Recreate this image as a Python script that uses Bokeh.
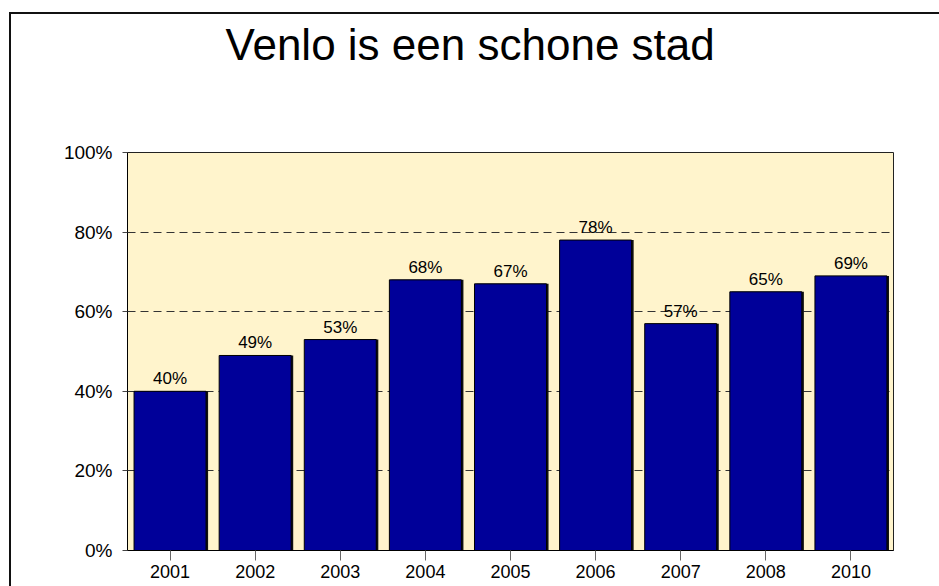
from bokeh.plotting import figure
from bokeh.models import (ColumnDataSource, LabelSet, Range1d, FixedTicker,
                          PrintfTickFormatter, Title)
from bokeh.transform import dodge
from bokeh.embed import file_html
from bokeh.resources import INLINE
from bokeh.core.properties import value

# ---- data ----
years = ["2001", "2002", "2003", "2004", "2005", "2006", "2007", "2008", "2010"]
scores = [40, 49, 53, 68, 67, 78, 57, 65, 69]
y_ticks = [0, 20, 40, 60, 80, 100]
title_text = "Venlo is een schone stad"

src = ColumnDataSource(dict(
    x=years,
    top=scores,
    label=[f"{v}%" for v in scores],
))

FONT = "Liberation Sans"

p = figure(x_range=years, y_range=Range1d(0, 100),
           width=939, height=586,
           output_backend="svg", toolbar_location=None,
           min_border_left=127, min_border_right=46,
           min_border_top=152, min_border_bottom=36)

p.background_fill_color = "#FFF4CC"
p.border_fill_color = None
p.outline_line_color = "#222222"
p.outline_line_width = 1
# outer chart border (left and top edges visible in the reference)
p.styles = {
    "background": ("linear-gradient(#111,#111) 9px 12px / 2px 700px no-repeat, "
                   "linear-gradient(#111,#111) 9px 12px / 1000px 2px no-repeat, "
                   "white"),
}

# title: empty default title, spacer next to the frame, real title above it
p.title.text = ""
spacer = Title(text=" ", text_font_size="1px", standoff=79)
p.add_layout(spacer, "above")
main_title = Title(text=title_text, text_font=FONT, text_font_size="44px",
                   text_font_style="normal", text_color="black",
                   align="left", offset=98, vertical_align="top", standoff=0)
p.add_layout(main_title, "above")

# y axis
p.yaxis.ticker = FixedTicker(ticks=y_ticks)
p.yaxis.formatter = PrintfTickFormatter(format="%d%%")
p.yaxis.major_label_text_font = FONT
p.yaxis.major_label_text_font_size = "19px"
p.yaxis.major_label_text_color = "black"
p.yaxis.axis_line_color = "black"
p.yaxis.major_tick_line_color = "#444444"
p.yaxis.major_tick_in = 0
p.yaxis.major_tick_out = 5
p.yaxis.major_label_standoff = 10
p.yaxis.minor_tick_line_color = None

# x axis
p.xaxis.axis_line_color = "black"
p.xaxis.major_tick_line_color = "#666666"
p.xaxis.major_tick_in = 0
p.xaxis.major_tick_out = 10
p.xaxis.major_label_standoff = 4
p.xaxis.major_label_text_font = FONT
p.xaxis.major_label_text_font_size = "18px"
p.xaxis.major_label_text_color = "black"

# grid
p.xgrid.grid_line_color = None
p.ygrid.ticker = FixedTicker(ticks=y_ticks)
p.ygrid.grid_line_color = "#333333"
p.ygrid.grid_line_dash = "8 5"
p.ygrid.grid_line_width = 1

# bars with shadow
p.vbar(x=dodge("x", 0.024, range=p.x_range), top="top", width=0.846,
       fill_color="#111111", line_color=None, source=src)
p.vbar(x="x", top="top", width=0.846, fill_color="#000099",
       line_color="#000000", line_width=1, source=src)

# value labels
p.add_layout(LabelSet(x="x", y="top", text="label", source=src,
                      y_offset=7, text_align="center",
                      text_baseline="alphabetic",
                      text_font=value(FONT), text_font_size="17px",
                      text_color="black"))

open("out.html", "w").write(file_html(p, INLINE))
